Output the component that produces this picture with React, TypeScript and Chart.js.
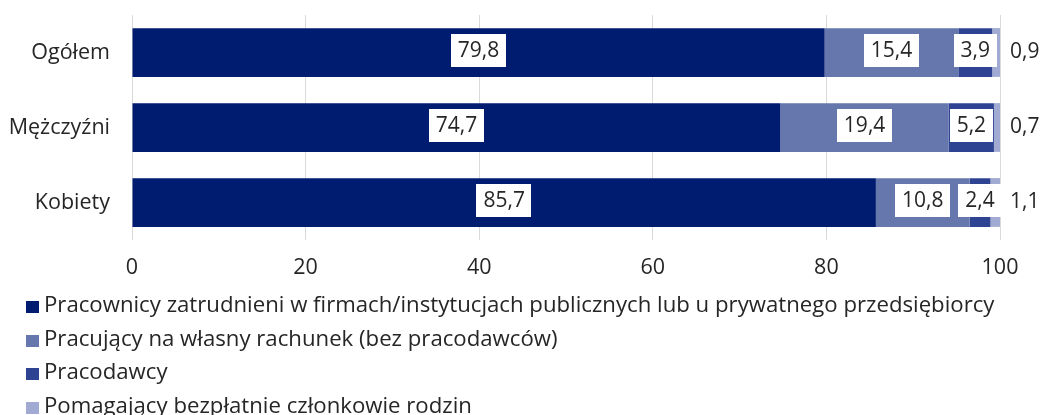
import React, { useEffect, useRef } from "react";
import { Chart, registerables } from "chart.js";
Chart.register(...registerables);

const categories = ["Ogółem", "Mężczyźni", "Kobiety"];
const seriesNames = [
  "Pracownicy zatrudnieni w firmach/instytucjach publicznych lub u prywatnego przedsiębiorcy",
  "Pracujący na własny rachunek (bez pracodawców)",
  "Pracodawcy",
  "Pomagający bezpłatnie członkowie rodzin",
];
const employees = [79.8, 74.7, 85.7];
const selfEmployed = [15.4, 19.4, 10.8];
const employers = [3.9, 5.2, 2.4];
const familyHelpers = [0.9, 0.7, 1.1];
const xTickValues = [0, 20, 40, 60, 80, 100];
const colors = ["#001c71", "#6577ad", "#2e4493", "#a0aad2"];

const FONT_FAMILY = "'Open Sans', sans-serif";
const AXIS_SIZE = 21.5;
const VALUE_SIZE = 21;
const LEGEND_SIZE = 22.2;
const TEXT_COLOR = "#262626";

const fmt = (v: number) => v.toFixed(1).replace(".", ",");

const labelPlugin = {
  id: "segLabels",
  afterDatasetsDraw(chart: any) {
    const ctx = chart.ctx;
    ctx.save();
    ctx.font = `${VALUE_SIZE}px ${FONT_FAMILY}`;
    ctx.textBaseline = "middle";
    chart.data.datasets.forEach((ds: any, di: number) => {
      const meta = chart.getDatasetMeta(di);
      meta.data.forEach((bar: any, i: number) => {
        const v = ds.data[i];
        const txt = fmt(v);
        const { x, y, base } = bar.getProps(["x", "y", "base"], true);
        if (di === chart.data.datasets.length - 1) {
          ctx.textAlign = "left";
          ctx.fillStyle = TEXT_COLOR;
          ctx.fillText(txt, x + 10, y);
          return;
        }
        const cx = (x + base) / 2;
        const w = ctx.measureText(txt).width + 14;
        const h = 33;
        ctx.fillStyle = "#ffffff";
        ctx.fillRect(Math.round(cx - w / 2), Math.round(y - 2 - h / 2), Math.round(w), h);
        ctx.fillStyle = TEXT_COLOR;
        ctx.textAlign = "center";
        ctx.fillText(txt, cx, y - 1);
      });
    });
    ctx.restore();
  },
};

const legendPlugin = {
  id: "vLegend",
  afterDraw(chart: any) {
    const ctx = chart.ctx;
    const top = chart.chartArea.bottom + 67;
    ctx.save();
    ctx.font = `${LEGEND_SIZE}px ${FONT_FAMILY}`;
    ctx.textBaseline = "middle";
    ctx.textAlign = "left";
    chart.data.datasets.forEach((ds: any, i: number) => {
      const y = top + i * 33.5;
      ctx.fillStyle = ds.backgroundColor;
      ctx.fillRect(26, Math.round(y - 6), 13, 12);
      ctx.fillStyle = TEXT_COLOR;
      ctx.fillText(ds.label, 44, y - 1);
    });
    ctx.restore();
  },
};

export default function App() {
  const ref = useRef<HTMLCanvasElement>(null);
  useEffect(() => {
    document.body.style.margin = "0";
    if (!ref.current) return;
    const series = [employees, selfEmployed, employers, familyHelpers];
    const chart = new Chart(ref.current, {
      type: "bar",
      data: {
        labels: categories,
        datasets: series.map((d, i) => ({
          label: seriesNames[i],
          data: d,
          backgroundColor: colors[i],
          borderWidth: 0,
          barPercentage: 0.65,
          categoryPercentage: 1,
        })),
      },
      options: {
        indexAxis: "y",
        animation: false,
        responsive: true,
        maintainAspectRatio: false,
        layout: { padding: { top: 15, right: 42, left: 0, bottom: 135 } },
        plugins: {
          legend: { display: false },
          tooltip: { enabled: false },
        },
        scales: {
          x: {
            stacked: true,
            min: 0,
            max: 100,
            afterBuildTicks: (scale: any) => {
              scale.ticks = xTickValues.map((v) => ({ value: v }));
            },
            afterFit: (scale: any) => {
              scale.height = 40;
            },
            grid: { color: "#d9d9d9", lineWidth: 1, drawTicks: false },
            border: { display: false },
            ticks: {
              padding: 15,
              color: TEXT_COLOR,
              font: { family: FONT_FAMILY, size: AXIS_SIZE },
              maxRotation: 0,
            },
          },
          y: {
            stacked: true,
            afterFit: (scale: any) => {
              scale.width = 132;
            },
            grid: { display: true, color: "rgba(0,0,0,0)", drawTicks: true, tickLength: 22, drawOnChartArea: false },
            border: { display: false },
            ticks: {
              padding: 0,
              color: TEXT_COLOR,
              font: { family: FONT_FAMILY, size: AXIS_SIZE },
            },
          },
        },
      },
      plugins: [labelPlugin, legendPlugin],
    });
    return () => chart.destroy();
  }, []);
  return (
    <div style={{ position: "relative", width: 1042, height: 415, overflow: "hidden" }}>
      <canvas ref={ref} />
    </div>
  );
}
